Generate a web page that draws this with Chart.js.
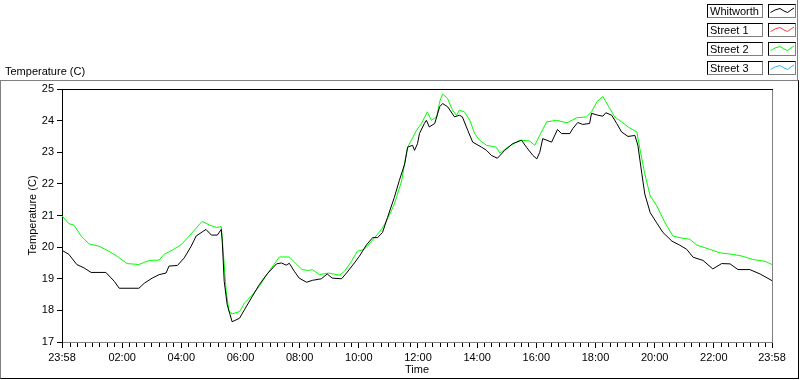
<!DOCTYPE html>
<html>
<head>
<meta charset="utf-8">
<script src="https://cdn.jsdelivr.net/npm/chart.js@4.4.1/dist/chart.umd.min.js"></script>
<style>
html,body{margin:0;padding:0;background:#fff;}
#wrap{position:relative;width:800px;height:380px;overflow:hidden;font-family:"Liberation Sans",Arial,sans-serif;font-size:11px;color:#000;background:#fff;}
#c{position:absolute;left:0;top:0;}
#frame{position:absolute;left:0;top:80px;width:799px;height:299px;box-sizing:border-box;border-top:1px solid #808080;border-left:1px solid #808080;border-right:1px solid #000;border-bottom:1px solid #000;pointer-events:none;}
#ylab{position:absolute;left:5px;top:65px;line-height:13px;white-space:nowrap;}
#legend{position:absolute;left:700px;top:0;width:98px;height:80px;box-sizing:border-box;border-right:1px solid #808080;}
.row{position:absolute;left:7px;width:90px;height:14px;}
.name{position:absolute;left:0;top:0;width:56px;height:14px;box-sizing:border-box;border:1px solid #000;border-right-color:#808080;border-bottom-color:#808080;line-height:13px;padding-left:2px;white-space:nowrap;overflow:visible;}
.swatch{position:absolute;left:61px;top:0;width:28px;height:14px;box-sizing:border-box;border:1px solid #000;border-right-color:#808080;border-bottom-color:#808080;}
.swatch svg{position:absolute;left:0;top:0;}
</style>
</head>
<body>
<div id="wrap">
  <canvas id="c" width="800" height="380"></canvas>
  <div id="frame"></div>
  <div id="ylab">Temperature (C)</div>
  <div id="legend"></div>
</div>
<script>
// ---- Data (minutes after 23:58 of the previous day, temperature in °C) ----
const xTickMinutes = [0, 122, 242, 362, 482, 602, 722, 842, 962, 1082, 1202, 1322, 1440];
const xTickLabels = ['23:58', '02:00', '04:00', '06:00', '08:00', '10:00', '12:00', '14:00', '16:00', '18:00', '20:00', '22:00', '23:58'];

const seriesNames = ['Whitworth', 'Street 1', 'Street 2', 'Street 3'];
const seriesColors = ['#000000', '#ff3a3a', '#00ff00', '#33b5ff'];

const whitworthMinutes = [0, 14, 30, 45, 59, 89, 106, 116, 156, 167, 183, 197, 211, 217, 234, 248, 262, 272, 292, 303, 315, 323, 325, 329, 335, 345, 360, 370, 384, 400, 416, 435, 445, 455, 461, 471, 481, 496, 508, 526, 538, 548, 567, 577, 593, 603, 617, 630, 640, 650, 660, 674, 684, 695, 701, 711, 715, 721, 725, 735, 739, 745, 756, 766, 772, 782, 796, 806, 812, 823, 833, 851, 861, 871, 883, 898, 914, 932, 942, 955, 963, 969, 975, 993, 1005, 1013, 1030, 1036, 1046, 1056, 1070, 1074, 1087, 1097, 1103, 1115, 1125, 1135, 1148, 1162, 1168, 1176, 1182, 1193, 1206, 1219, 1237, 1253, 1267, 1280, 1300, 1320, 1338, 1355, 1371, 1395, 1416, 1440];
const whitworthTemps = [19.90, 19.77, 19.45, 19.34, 19.20, 19.20, 18.92, 18.70, 18.70, 18.86, 19.02, 19.13, 19.18, 19.40, 19.42, 19.66, 20.03, 20.35, 20.56, 20.38, 20.38, 20.56, 20.19, 18.92, 18.18, 17.64, 17.75, 18.02, 18.39, 18.81, 19.15, 19.47, 19.50, 19.43, 19.49, 19.24, 19.02, 18.89, 18.95, 19.00, 19.15, 19.02, 19.00, 19.18, 19.50, 19.71, 20.06, 20.30, 20.30, 20.46, 20.93, 21.57, 22.10, 22.63, 23.16, 23.22, 23.06, 23.27, 23.59, 23.91, 24.01, 23.80, 23.91, 24.44, 24.54, 24.44, 24.12, 24.17, 24.12, 23.69, 23.32, 23.16, 23.06, 22.90, 22.81, 23.06, 23.27, 23.38, 23.16, 22.90, 22.79, 23.00, 23.43, 23.32, 23.72, 23.59, 23.59, 23.75, 23.94, 23.88, 23.91, 24.23, 24.17, 24.14, 24.25, 24.17, 23.91, 23.64, 23.50, 23.53, 23.22, 22.32, 21.68, 21.09, 20.77, 20.46, 20.19, 20.06, 19.93, 19.68, 19.58, 19.31, 19.48, 19.47, 19.29, 19.29, 19.15, 18.94];

const street1Minutes = [];
const street1Temps = [];

const street2Minutes = [0, 14, 24, 39, 55, 75, 95, 112, 132, 156, 177, 197, 207, 223, 242, 258, 272, 284, 299, 313, 323, 327, 333, 339, 345, 360, 370, 386, 400, 420, 441, 461, 475, 487, 500, 508, 522, 542, 563, 573, 587, 599, 613, 628, 648, 660, 674, 689, 697, 701, 719, 729, 741, 749, 760, 766, 772, 782, 792, 800, 806, 816, 827, 837, 847, 861, 881, 888, 904, 928, 948, 959, 969, 983, 1003, 1024, 1044, 1064, 1074, 1085, 1097, 1107, 1121, 1135, 1148, 1166, 1172, 1182, 1193, 1206, 1223, 1239, 1259, 1273, 1288, 1314, 1334, 1361, 1381, 1401, 1426, 1440];
const street2Temps = [20.99, 20.74, 20.70, 20.35, 20.10, 20.03, 19.87, 19.71, 19.48, 19.45, 19.58, 19.59, 19.77, 19.90, 20.08, 20.35, 20.60, 20.81, 20.70, 20.62, 20.65, 19.87, 18.60, 17.96, 17.89, 17.96, 18.23, 18.49, 18.76, 19.24, 19.69, 19.69, 19.47, 19.29, 19.26, 19.29, 19.13, 19.18, 19.11, 19.24, 19.55, 19.87, 19.93, 20.19, 20.56, 20.88, 21.36, 22.10, 22.84, 23.16, 23.69, 23.91, 24.28, 24.01, 24.12, 24.60, 24.84, 24.70, 24.33, 24.17, 24.33, 24.28, 24.01, 23.59, 23.38, 23.22, 23.16, 22.97, 23.16, 23.38, 23.36, 23.22, 23.54, 23.96, 24.01, 23.93, 24.09, 24.12, 24.28, 24.60, 24.76, 24.49, 24.12, 23.96, 23.80, 23.64, 23.11, 22.32, 21.62, 21.31, 20.77, 20.35, 20.28, 20.25, 20.06, 19.93, 19.82, 19.77, 19.71, 19.61, 19.55, 19.45];

const street3Minutes = [];
const street3Temps = [];

// ---- Build datasets ----
function zip(xs, ys) { return xs.map((x, i) => ({ x: x, y: ys[i] })); }
const seriesData = [
  zip(whitworthMinutes, whitworthTemps),
  zip(street1Minutes, street1Temps),
  zip(street2Minutes, street2Temps),
  zip(street3Minutes, street3Temps)
];

const FONT = { family: '"Liberation Sans", Arial, sans-serif', size: 11 };

const datasets = seriesNames.map((name, i) => ({
  label: name,
  data: seriesData[i],
  borderColor: seriesColors[i],
  backgroundColor: seriesColors[i],
  borderWidth: 1,
  pointRadius: 0,
  tension: 0,
  fill: false
}));

function isMajorTick(ctx) {
  return ctx.tick && xTickMinutes.indexOf(ctx.tick.value) >= 0;
}

// plot-box top (black) and right (grey) edges
const boxEdges = {
  id: 'boxEdges',
  afterDraw(chart) {
    const a = chart.chartArea;
    const ctx = chart.ctx;
    ctx.save();
    const top = Math.round(a.top), left = Math.round(a.left);
    const right = Math.round(a.right), bottom = Math.round(a.bottom);
    ctx.fillStyle = '#000000';
    ctx.fillRect(left, top, right - left + 1, 1);
    ctx.fillStyle = '#808080';
    ctx.fillRect(right, top + 1, 1, bottom - top);
    ctx.restore();
  }
};

const chart = new Chart(document.getElementById('c'), {
  type: 'line',
  data: { datasets: datasets },
  options: {
    responsive: false,
    animation: false,
    events: [],
    layout: { padding: { top: 89, left: 0, right: 28, bottom: 0 } },
    plugins: { legend: { display: false }, tooltip: { enabled: false } },
    scales: {
      x: {
        type: 'linear',
        min: 0,
        max: 1440,
        afterBuildTicks(scale) {
          const vals = new Set(xTickMinutes);
          for (let m = 2; m < 1440; m += 15) vals.add(m);
          scale.ticks = Array.from(vals).sort((p, q) => p - q).map(v => ({ value: v }));
        },
        afterFit(scale) { scale.height = 38; },
        ticks: {
          autoSkip: false,
          maxRotation: 0,
          minRotation: 0,
          padding: 3,
          color: '#000',
          font: FONT,
          callback(value) {
            const i = xTickMinutes.indexOf(value);
            return i >= 0 ? xTickLabels[i] : '';
          }
        },
        grid: {
          display: true,
          drawOnChartArea: false,
          drawTicks: true,
          tickLength: 6,
          tickWidth: 1,
          tickColor: '#000',
          color: '#000',
          tickBorderDash: (ctx) => isMajorTick(ctx) ? [] : [4, 20]
        },
        border: { display: true, color: '#808080', width: 1 },
        title: { display: true, text: 'Time', color: '#000', font: FONT, padding: { top: 0, bottom: 3 } }
      },
      y: {
        min: 17,
        max: 25,
        afterFit(scale) { scale.width = 62; },
        ticks: { stepSize: 1, color: '#000', font: FONT, padding: 3 },
        grid: { drawOnChartArea: false, drawTicks: true, tickLength: 5, color: '#000', tickColor: '#000' },
        border: { display: true, color: '#000', width: 1 },
        title: { display: true, text: 'Temperature (C)', color: '#000', font: FONT, padding: { top: 26, bottom: 0 } }
      }
    }
  },
  plugins: [boxEdges]
});

// ---- Legend built from the chart's datasets ----
const legend = document.getElementById('legend');
chart.data.datasets.forEach((ds, i) => {
  const row = document.createElement('div');
  row.className = 'row';
  row.style.top = (4 + i * 19) + 'px';
  const name = document.createElement('div');
  name.className = 'name';
  name.textContent = ds.label;
  const sw = document.createElement('div');
  sw.className = 'swatch';
  sw.innerHTML = '<svg width="26" height="12" xmlns="http://www.w3.org/2000/svg"><polyline points="1.5,7.5 6,5 11,3.5 15,6 18.5,7.5 22,5 25,3" fill="none" stroke="' + ds.borderColor + '" stroke-width="1"/></svg>';
  row.appendChild(name);
  row.appendChild(sw);
  legend.appendChild(row);
});
</script>
</body>
</html>
